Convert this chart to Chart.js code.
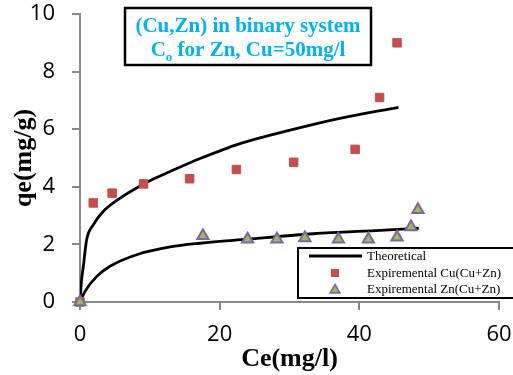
<!DOCTYPE html>
<html>
<head>
<meta charset="utf-8">
<script src="https://cdn.jsdelivr.net/npm/chart.js@4.4.1/dist/chart.umd.min.js"></script>
<style>
  body { margin: 0; background: #fff; }
  #chart { display: block; }
</style>
</head>
<body>
<canvas id="chart" width="513" height="375"></canvas>
<script>
// values
const cuCe = [0, 1.9, 4.6, 9.1, 15.7, 22.4, 30.6, 39.4, 42.9, 45.4];
const cuQe = [0, 3.44, 3.78, 4.1, 4.28, 4.6, 4.85, 5.3, 7.1, 9.0];

const znCe = [0, 17.6, 24.0, 28.2, 32.2, 37.0, 41.3, 45.4, 47.4, 48.4];
const znQe = [0, 2.3, 2.18, 2.18, 2.22, 2.18, 2.18, 2.25, 2.6, 3.2];

const theoCuCe = [0, 0.2, 0.48, 0.95, 1.9, 3.35, 5.7, 8.1, 10.5, 12.9, 17.2, 22.9, 30.1, 37.2, 45.6];
const theoCuQe = [0, 0.7, 1.24, 2.16, 2.68, 3.15, 3.6, 3.96, 4.27, 4.53, 4.98, 5.5, 5.97, 6.38, 6.76];

const theoZnCe = [0, 0.72, 2.4, 4.3, 8.1, 12.9, 17.2, 23.9, 33.4, 43.0, 48.5];
const theoZnQe = [0, 0.37, 0.89, 1.24, 1.64, 1.91, 2.04, 2.18, 2.37, 2.49, 2.56];

const xTicks = [0, 20, 40, 60];
const yTicks = [0, 2, 4, 6, 8, 10];

const titleLines = ["(Cu,Zn) in binary system", "for Zn, Cu=50mg/l"];
const legendLabels = ["Theoretical", "Expiremental Cu(Cu+Zn)", "Expiremental Zn(Cu+Zn)"];

const RED = "#c0504d";
const GREEN = "#9bbb59";
const PURPLE = "#8064a2";
const AXIS = "#898989";
const CYAN = "#00b0f0";

function toPoints(xs, ys) {
  return xs.map((x, i) => ({ x: x, y: ys[i] }));
}

function noScalePadding(scale) {
  scale.paddingTop = 0;
  scale.paddingBottom = 0;
  scale.paddingLeft = 0;
  scale.paddingRight = 0;
}

// title box and the custom legend box
const overlayPlugin = {
  id: "overlay",
  afterDraw(chart) {
    const ctx = chart.ctx;
    ctx.save();

    // title box
    ctx.fillStyle = "#fff";
    ctx.fillRect(125, 8, 246, 57);
    ctx.strokeStyle = "#000";
    ctx.lineWidth = 2.5;
    ctx.strokeRect(125, 8, 246, 57);

    ctx.fillStyle = CYAN;
    ctx.font = "bold 21px 'Liberation Serif'";
    ctx.textAlign = "center";
    ctx.textBaseline = "middle";
    ctx.fillText(titleLines[0], 248, 27);

    // second line: C with subscript o, then the rest
    const restW = ctx.measureText(" " + titleLines[1]).width;
    const cW = ctx.measureText("C").width;
    ctx.font = "bold 13px 'Liberation Serif'";
    const oW = ctx.measureText("o").width;
    const startX = 248 - (cW + oW + restW) / 2;
    ctx.textAlign = "left";
    ctx.font = "bold 21px 'Liberation Serif'";
    ctx.fillText("C", startX, 51);
    ctx.font = "bold 13px 'Liberation Serif'";
    ctx.fillText("o", startX + cW, 58);
    ctx.font = "bold 21px 'Liberation Serif'";
    ctx.fillText(" " + titleLines[1], startX + cW + oW, 51);

    // legend box
    ctx.fillStyle = "#fff";
    ctx.fillRect(298, 248, 220, 50);
    ctx.strokeStyle = "#000";
    ctx.lineWidth = 2;
    ctx.strokeRect(298, 248, 220, 50);

    ctx.strokeStyle = "#000";
    ctx.lineWidth = 3;
    ctx.beginPath();
    ctx.moveTo(309, 256);
    ctx.lineTo(362, 256);
    ctx.stroke();

    ctx.fillStyle = RED;
    ctx.fillRect(331, 269, 8, 8);

    ctx.beginPath();
    ctx.moveTo(335, 284.5);
    ctx.lineTo(340, 293);
    ctx.lineTo(330, 293);
    ctx.closePath();
    ctx.fillStyle = GREEN;
    ctx.fill();
    ctx.strokeStyle = PURPLE;
    ctx.lineWidth = 1.5;
    ctx.stroke();

    ctx.fillStyle = "#000";
    ctx.font = "13px 'Liberation Serif'";
    ctx.textAlign = "left";
    ctx.textBaseline = "middle";
    ctx.fillText(legendLabels[0], 367, 257);
    ctx.fillText(legendLabels[1], 367, 273.5);
    ctx.fillText(legendLabels[2], 367, 290);

    ctx.restore();
  }
};

new Chart(document.getElementById("chart"), {
  type: "scatter",
  data: {
    datasets: [
      {
        label: legendLabels[1],
        data: toPoints(cuCe, cuQe),
        pointStyle: "rect",
        pointRadius: 6,
        backgroundColor: RED,
        borderColor: RED,
        borderWidth: 1,
        clip: false,
        order: 1
      },
      {
        label: legendLabels[2],
        data: toPoints(znCe, znQe),
        pointStyle: "triangle",
        pointRadius: 6.5,
        backgroundColor: GREEN,
        borderColor: PURPLE,
        borderWidth: 2,
        clip: false,
        order: 0
      },
      {
        label: legendLabels[0],
        data: toPoints(theoCuCe, theoCuQe),
        showLine: true,
        pointRadius: 0,
        borderColor: "#000",
        borderWidth: 2.8,
        cubicInterpolationMode: "monotone",
        order: 3
      },
      {
        label: "Theoretical Zn",
        data: toPoints(theoZnCe, theoZnQe),
        showLine: true,
        pointRadius: 0,
        borderColor: "#000",
        borderWidth: 2.8,
        cubicInterpolationMode: "monotone",
        order: 3
      }
    ]
  },
  options: {
    responsive: false,
    animation: false,
    devicePixelRatio: 1,
    layout: {
      padding: { top: 14, right: 14, left: 0, bottom: 0 }
    },
    plugins: {
      legend: { display: false },
      tooltip: { enabled: false }
    },
    scales: {
      x: {
        type: "linear",
        min: 0,
        max: 60,
        afterFit: scale => { scale.height = 73; noScalePadding(scale); },
        afterBuildTicks: scale => { scale.ticks = xTicks.map(v => ({ value: v })); },
        grid: { drawOnChartArea: false, drawTicks: true, tickLength: 8, color: AXIS, lineWidth: 2 },
        border: { color: AXIS, width: 2 },
        ticks: {
          color: "#000",
          padding: 12,
          font: { family: "'Open Sans'", size: 22 }
        },
        title: {
          display: true,
          text: "Ce(mg/l)",
          color: "#000",
          padding: { top: 4, bottom: 0 },
          font: { family: "'Liberation Serif'", size: 26, weight: "bold" }
        }
      },
      y: {
        type: "linear",
        min: 0,
        max: 10,
        afterFit: scale => { scale.width = 80; noScalePadding(scale); },
        afterBuildTicks: scale => { scale.ticks = yTicks.map(v => ({ value: v })); },
        grid: { drawOnChartArea: false, drawTicks: true, tickLength: 8, color: AXIS, lineWidth: 2 },
        border: { color: AXIS, width: 2 },
        ticks: {
          color: "#000",
          padding: 17,
          font: { family: "'Open Sans'", size: 22 }
        },
        title: {
          display: true,
          text: "qe(mg/g)",
          color: "#000",
          padding: { top: 9, bottom: 0 },
          font: { family: "'Liberation Serif'", size: 26, weight: "bold" }
        }
      }
    }
  },
  plugins: [overlayPlugin]
});
</script>
</body>
</html>
